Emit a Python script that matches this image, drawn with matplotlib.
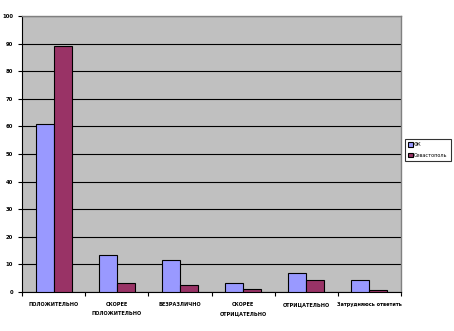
import matplotlib
matplotlib.use("Agg")
import matplotlib.pyplot as plt
import numpy as np

categories = ["ПОЛОЖИТЕЛЬНО", "СКОРЕЕ\nПОЛОЖИТЕЛЬНО", "БЕЗРАЗЛИЧНО",
              "СКОРЕЕ\nОТРИЦАТЕЛЬНО", "ОТРИЦАТЕЛЬНО", "Затрудняюсь ответить"]
series_names = ["ФК", "Севастополь"]
fk = [61, 13.5, 11.5, 3.2, 7, 4.2]
sev = [89, 3.2, 2.4, 1, 4.2, 0.6]
yticks = [0, 10, 20, 30, 40, 50, 60, 70, 80, 90, 100]

plt.rcParams['font.family'] = ['DejaVu Sans']
plt.rcParams['font.stretch'] = 'condensed'

W, H = 454, 331
fig = plt.figure(figsize=(W/100, H/100), dpi=100)
ax = fig.add_axes([22/W, (H-292)/H, 379/W, 276/H])
ax.set_facecolor("#C0C0C0")

x = np.arange(len(categories))
bw = 0.285
ax.bar(x - bw/2, fk, bw, color="#9999FF", edgecolor="black", linewidth=0.8, label=series_names[0], zorder=3)
ax.bar(x + bw/2, sev, bw, color="#993366", edgecolor="black", linewidth=0.8, label=series_names[1], zorder=3)

ax.set_xlim(-0.5, len(categories) - 0.5)
ax.set_ylim(0, 100)
ax.set_yticks(yticks)
ax.set_yticklabels([str(v) for v in yticks], fontsize=4.2, fontweight='bold')
ax.yaxis.grid(True, color="black", linewidth=0.8, zorder=1)
ax.set_axisbelow(True)

ax.set_xticks(x)
ax.set_xticklabels(categories, fontsize=4.0, fontweight='bold', linespacing=2.1)
ax.tick_params(axis='x', length=0, pad=7)
ax.set_xticks(np.arange(len(categories) + 1) - 0.5, minor=True)
ax.tick_params(axis='x', which='minor', length=3, direction='out', width=0.8)
ax.tick_params(axis='y', length=3, direction='out', width=0.8, pad=3.5)

for s in ["top", "right"]:
    ax.spines[s].set_color("#808080")
    ax.spines[s].set_linewidth(1)
for s in ["left", "bottom"]:
    ax.spines[s].set_color("black")
    ax.spines[s].set_linewidth(0.8)

leg = fig.legend(loc="upper left", bbox_to_anchor=(405/W, 1 - 139/H),
                 fontsize=4.0, frameon=True, fancybox=False, edgecolor="black",
                 handlelength=0.8, handleheight=0.8, handletextpad=0.2,
                 borderpad=0.6, labelspacing=1.0, borderaxespad=0)
leg.get_frame().set_linewidth(0.8)

fig.savefig("out.png", dpi=100)
